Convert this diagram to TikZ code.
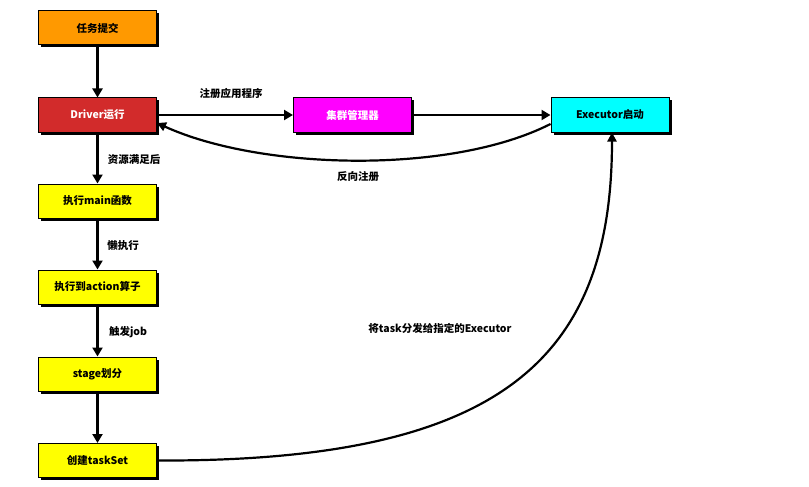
\documentclass[tikz,border=0pt]{standalone}
\usepackage{fontspec}
\setmainfont{Noto Sans CJK SC}
\usetikzlibrary{arrows.meta,shadows}
\definecolor{cOrange}{HTML}{FF9900}
\definecolor{cRed}{HTML}{D22B2B}
\definecolor{cMagenta}{HTML}{FF00FF}
\definecolor{cCyan}{HTML}{00FFFF}
\definecolor{cYellow}{HTML}{FFFF00}
\tikzset{
  box/.style={draw=black, line width=1pt, minimum width=118pt, minimum height=34pt,
    inner sep=0pt, font=\fontsize{10.5}{12}\selectfont\bfseries,
    drop shadow={shadow xshift=2.5pt, shadow yshift=-2.5pt, fill=black, opacity=1}},
  arr/.style={line width=2.8pt, -{Triangle[length=9pt,width=10pt]}},
  carr/.style={line width=2.2pt, -{Triangle[length=9pt,width=9pt]}},
  lab/.style={font=\fontsize{10.5}{12}\selectfont\bfseries, inner sep=0pt}
}
\begin{document}
\begin{tikzpicture}[x=1pt,y=-1pt]
\useasboundingbox (0,0) rectangle (809,487);
\node[box, fill=cOrange] (submit) at (97.5,28) {任务提交};
\node[box, fill=cRed, text=white] (driver) at (97.5,115) {Driver运行};
\node[box, fill=cYellow] (main) at (97.5,201) {执行main函数};
\node[box, fill=cYellow] (action) at (97.5,287) {执行到action算子};
\node[box, fill=cYellow] (stage) at (97.5,374) {stage划分};
\node[box, fill=cYellow] (taskset) at (97.5,460.5) {创建taskSet};
\node[box, fill=cMagenta, text=white] (cm) at (352.5,115) {集群管理器};
\node[box, fill=cCyan] (exec) at (610,115) {Executor启动};

\draw[arr] (submit) -- (driver);
\draw[arr] (driver) -- (main);
\draw[arr] (main) -- (action);
\draw[arr] (action) -- (stage);
\draw[arr] (stage) -- (taskset);
\draw[arr] (driver.east |- cm) -- (cm);
\draw[arr] (cm) -- (exec);
\draw[carr] ([yshift=-9pt]exec.west) .. controls (450,175) and (260,170) .. ([yshift=-8pt]driver.east);
\draw[carr] (taskset.east) .. controls (500,462) and (612,360) .. ([xshift=2pt]exec.south);

\node[lab] (l1) at (231,93) {注册应用程序};
\node[lab] (l2) at (134,160) {资源满足后};
\node[lab] (l3) at (123,246) {懒执行};
\node[lab] (l4) at (128,332) {触发job};
\node[lab] (l5) at (358,177) {反向注册};
\node[lab] (l6) at (440,328) {将task分发给指定的Executor};
\end{tikzpicture}
\end{document}
